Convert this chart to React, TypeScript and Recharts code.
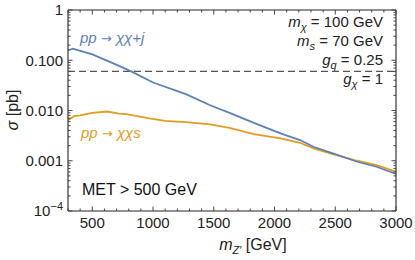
import React from "react";
import { LineChart, Line, XAxis, YAxis, ReferenceLine } from "recharts";

// ---- data ----
const jetMass = [300, 340, 500, 650, 820, 1000, 1270, 1470, 1630, 1830, 2050, 2210, 2320, 2480, 2680, 2840, 3000];
const jetSigma = [0.157, 0.17, 0.131, 0.092, 0.0602, 0.036, 0.0211, 0.0127, 0.00896, 0.00567, 0.0035, 0.00258, 0.0019, 0.0014, 0.000955, 0.00076, 0.000545];

const scalarMass = [300, 350, 400, 500, 620, 720, 780, 970, 1100, 1270, 1470, 1630, 1830, 2050, 2210, 2320, 2480, 2680, 2840, 3000];
const scalarSigma = [0.00642, 0.0077, 0.00796, 0.00896, 0.00955, 0.0087, 0.00845, 0.00694, 0.00622, 0.00586, 0.00527, 0.00452, 0.00339, 0.00278, 0.00228, 0.00176, 0.00136, 0.001, 0.00082, 0.000605];

const threshold = 0.06;

const majorX = [500, 1000, 1500, 2000, 2500, 3000];
const minorX = [300, 400, 600, 700, 800, 900, 1100, 1200, 1300, 1400, 1600, 1700, 1800, 1900, 2100, 2200, 2300, 2400, 2600, 2700, 2800, 2900];
const majorY = [0.0001, 0.001, 0.01, 0.1, 1];
const minorY = [
  0.0002, 0.0003, 0.0004, 0.0005, 0.0006, 0.0007, 0.0008, 0.0009,
  0.002, 0.003, 0.004, 0.005, 0.006, 0.007, 0.008, 0.009,
  0.02, 0.03, 0.04, 0.05, 0.06, 0.07, 0.08, 0.09,
  0.2, 0.3, 0.4, 0.5, 0.6, 0.7, 0.8, 0.9,
];
const yLabels: Record<string, string> = { "1": "1", "0.1": "0.100", "0.01": "0.010", "0.001": "0.001" };

const jetData = jetMass.map((m, i) => ({ m, s: jetSigma[i] }));
const scalarData = scalarMass.map((m, i) => ({ m, s: scalarSigma[i] }));
const allX = [...minorX, ...majorX];
const allY = [...minorY, ...majorY];

const BLUE = "#5E81B5";
const ORANGE = "#E19C24";
const FRAME = "#222";
const TICK = "#444";
const FONT = "'Liberation Sans', Arial, sans-serif";
const ARROW_FONT = "'DejaVu Sans', sans-serif";
const X_DOMAIN: [number, number] = [300, 3000];
const Y_DOMAIN: [number, number] = [0.0001, 1];
const MAJOR_LEN = 4.5;
const MINOR_LEN = 2.5;

const YTick = (props: any) => {
  const { x, y, payload } = props;
  const v = payload.value;
  if (v < 0.0005) {
    return (
      <text x={x} y={y} dy="0.36em" textAnchor="end" fontSize={15} fill="#222" fontFamily={FONT}>
        10<tspan dy={-6} fontSize={11}>−4</tspan>
      </text>
    );
  }
  return (
    <text x={x} y={y} dy="0.36em" textAnchor="end" fontSize={15} fill="#222" fontFamily={FONT}>
      {yLabels[String(v)]}
    </text>
  );
};

// inward tick marks drawn at the axis position the library computes
const makeInwardTick = (side: "bottom" | "top" | "left" | "right", majors: number[]) => (props: any) => {
  const { x, y, payload } = props;
  const len = majors.includes(payload.value) ? MAJOR_LEN : MINOR_LEN;
  let x2 = x, y2 = y;
  if (side === "bottom") y2 = y - len;
  if (side === "top") y2 = y + len;
  if (side === "left") x2 = x + len;
  if (side === "right") x2 = x - len;
  return <line x1={x} y1={y} x2={x2} y2={y2} stroke={TICK} strokeWidth={1} />;
};

const BottomTick = makeInwardTick("bottom", majorX);
const TopTick = makeInwardTick("top", majorX);
const LeftTick = makeInwardTick("left", majorY);
const RightTick = makeInwardTick("right", majorY);

export default function App() {
  const frameLine = { stroke: FRAME, strokeWidth: 1.1 };
  return (
    <div style={{ position: "absolute", left: 0, top: 0, width: 415, height: 260, background: "#fff" }}>
      <LineChart width={415} height={260} margin={{ top: 10, right: 19, bottom: 9, left: 8 }}>
        <XAxis xAxisId="x" type="number" dataKey="m" domain={X_DOMAIN} ticks={majorX} interval={0}
          allowDataOverflow tickLine={false} tickSize={4} tickMargin={2} height={40}
          axisLine={false}
          tick={{ fontSize: 15, fill: "#222", fontFamily: FONT }} />
        <XAxis xAxisId="b" type="number" dataKey="m" domain={X_DOMAIN} ticks={allX} interval={0}
          allowDataOverflow mirror height={1} tickSize={0} tickMargin={0} tickLine={false}
          tick={<BottomTick />} axisLine={frameLine} />
        <XAxis xAxisId="t" orientation="top" type="number" dataKey="m" domain={X_DOMAIN} ticks={allX} interval={0}
          allowDataOverflow mirror height={1} tickSize={0} tickMargin={0} tickLine={false}
          tick={<TopTick />} axisLine={frameLine} />

        <YAxis yAxisId="y" type="number" scale="log" dataKey="s" domain={Y_DOMAIN} ticks={majorY} interval={0}
          allowDataOverflow tickLine={false} tickSize={3} tickMargin={2} width={60}
          axisLine={false} tick={<YTick />} />
        <YAxis yAxisId="l" type="number" scale="log" dataKey="s" domain={Y_DOMAIN} ticks={allY} interval={0}
          allowDataOverflow mirror width={1} tickSize={0} tickMargin={0} tickLine={false}
          tick={<LeftTick />} axisLine={frameLine} />
        <YAxis yAxisId="r" orientation="right" type="number" scale="log" dataKey="s" domain={Y_DOMAIN} ticks={allY} interval={0}
          allowDataOverflow mirror width={1} tickSize={0} tickMargin={0} tickLine={false}
          tick={<RightTick />} axisLine={frameLine} />

        <ReferenceLine xAxisId="x" yAxisId="y" y={threshold} stroke="#555" strokeWidth={1.3} strokeDasharray="7 4" />

        <Line xAxisId="x" yAxisId="y" data={scalarData} dataKey="s" type="linear" stroke={ORANGE}
          strokeWidth={1.8} dot={false} isAnimationActive={false} />
        <Line xAxisId="x" yAxisId="y" data={jetData} dataKey="s" type="linear" stroke={BLUE}
          strokeWidth={1.8} dot={false} isAnimationActive={false} />
      </LineChart>

      <svg width={415} height={260} style={{ position: "absolute", left: 0, top: 0, pointerEvents: "none" }}
        fontFamily={FONT}>
        <text x={80} y={43} fontSize={15} fontStyle="italic" fill={BLUE}>
          pp <tspan fontFamily={ARROW_FONT} fontStyle="normal" fontSize={13}>→</tspan> χχ+j
        </text>
        <text x={81} y={138} fontSize={15} fontStyle="italic" fill={ORANGE}>
          pp <tspan fontFamily={ARROW_FONT} fontStyle="normal" fontSize={13}>→</tspan> χχs
        </text>

        <text x={383} y={27} fontSize={15} textAnchor="end" fill="#222">
          <tspan fontStyle="italic">m</tspan><tspan fontStyle="italic" fontSize={11} dy={4}>χ</tspan><tspan dy={-4}> = 100 GeV</tspan>
        </text>
        <text x={383} y={46} fontSize={15} textAnchor="end" fill="#222">
          <tspan fontStyle="italic">m</tspan><tspan fontStyle="italic" fontSize={11} dy={4}>s</tspan><tspan dy={-4}> = 70 GeV</tspan>
        </text>
        <text x={383} y={65} fontSize={15} textAnchor="end" fill="#222">
          <tspan fontStyle="italic">g</tspan><tspan fontStyle="italic" fontSize={11} dy={4}>q</tspan><tspan dy={-4}> = 0.25</tspan>
        </text>
        <text x={383} y={84} fontSize={15} textAnchor="end" fill="#222">
          <tspan fontStyle="italic">g</tspan><tspan fontStyle="italic" fontSize={11} dy={4}>χ</tspan><tspan dy={-4}> = 1</tspan>
        </text>

        <text x={82} y={195} fontSize={16} fill="#111">MET &gt; 500 GeV</text>

        <text x={253} y={250} fontSize={16} textAnchor="middle" fill="#222">
          <tspan fontStyle="italic">m</tspan><tspan fontStyle="italic" fontSize={11} dy={4}>Z′</tspan><tspan dy={-4}> [GeV]</tspan>
        </text>
        <text transform="translate(18,110) rotate(-90)" fontSize={16} textAnchor="middle" fill="#222">
          <tspan fontStyle="italic">σ</tspan> [pb]
        </text>
      </svg>
    </div>
  );
}
